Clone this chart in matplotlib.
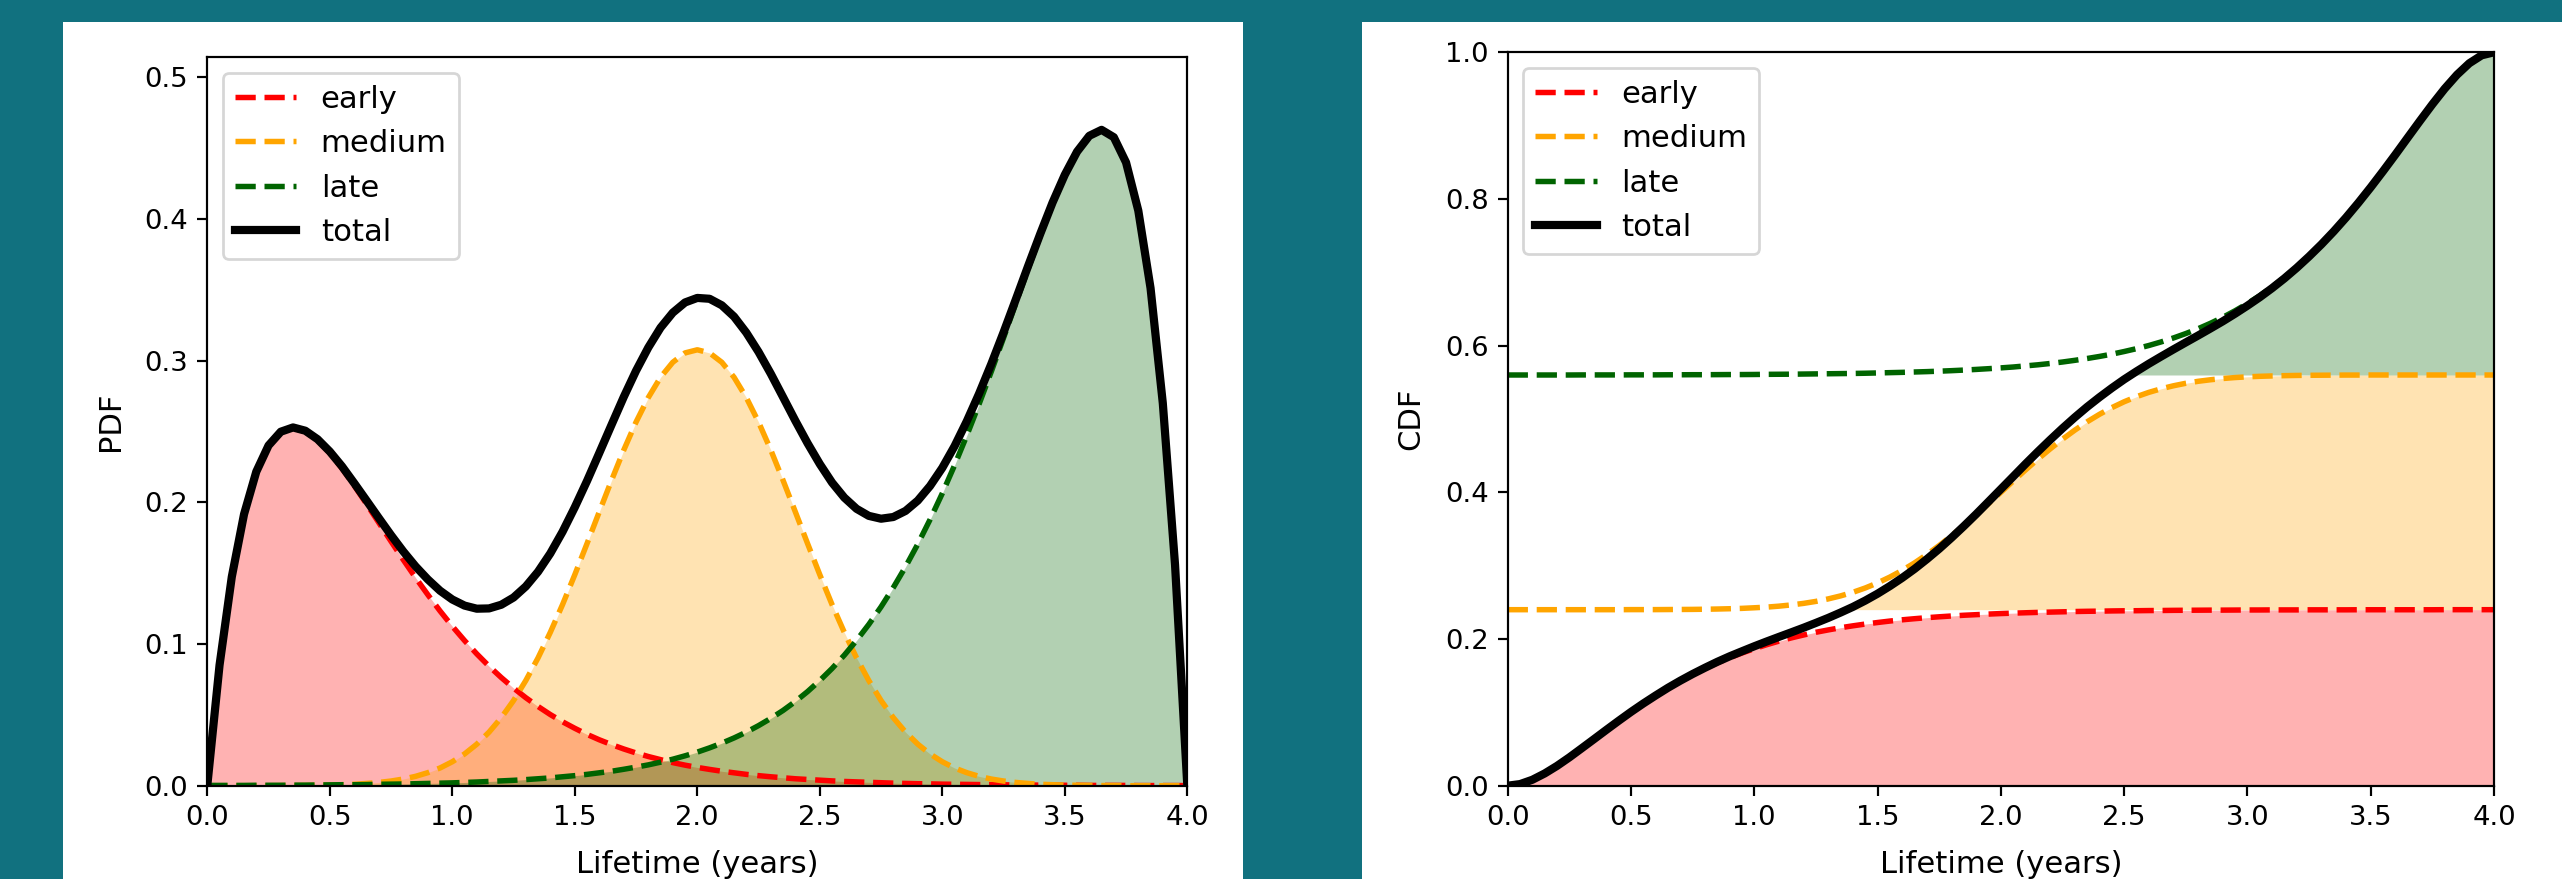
import numpy as np
import matplotlib.pyplot as plt
from matplotlib.patches import Rectangle

# lifetime samples (years)
lifetime = [0.00, 0.05, 0.10, 0.15, 0.20, 0.25, 0.30, 0.35, 0.40, 0.45,
            0.50, 0.55, 0.60, 0.65, 0.70, 0.75, 0.80, 0.85, 0.90, 0.95,
            1.00, 1.05, 1.10, 1.15, 1.20, 1.25, 1.30, 1.35, 1.40, 1.45,
            1.50, 1.55, 1.60, 1.65, 1.70, 1.75, 1.80, 1.85, 1.90, 1.95,
            2.00, 2.05, 2.10, 2.15, 2.20, 2.25, 2.30, 2.35, 2.40, 2.45,
            2.50, 2.55, 2.60, 2.65, 2.70, 2.75, 2.80, 2.85, 2.90, 2.95,
            3.00, 3.05, 3.10, 3.15, 3.20, 3.25, 3.30, 3.35, 3.40, 3.45,
            3.50, 3.55, 3.60, 3.65, 3.70, 3.75, 3.80, 3.85, 3.90, 3.95,
            4.00]

# PDF of each failure mode (weighted share)
pdf_early = [0.0, 0.0849, 0.1472, 0.1914, 0.2213, 0.2398, 0.2494, 0.2523, 0.2499, 0.2437,
             0.2348, 0.2239, 0.2117, 0.1988, 0.1856, 0.1724, 0.1594, 0.1468, 0.1348, 0.1233,
             0.1125, 0.1024, 0.0930, 0.0843, 0.0763, 0.0689, 0.0621, 0.0559, 0.0502, 0.0451,
             0.0405, 0.0362, 0.0324, 0.0290, 0.0259, 0.0231, 0.0206, 0.0184, 0.0163, 0.0145,
             0.0129, 0.0115, 0.0102, 0.0091, 0.0080, 0.0071, 0.0063, 0.0056, 0.0049, 0.0044,
             0.0039, 0.0034, 0.0030, 0.0027, 0.0024, 0.0021, 0.0018, 0.0016, 0.0014, 0.0013,
             0.0011, 0.0010, 0.0009, 0.0008, 0.0007, 0.0006, 0.0005, 0.0005, 0.0004, 0.0004,
             0.0003, 0.0003, 0.0002, 0.0002, 0.0002, 0.0002, 0.0001, 0.0001, 0.0001, 0.0001,
             0.0001]
pdf_medium = [0.0, 0.0, 0.0, 0.0, 0.0, 0.0, 0.0001, 0.0001, 0.0002, 0.0003,
              0.0004, 0.0007, 0.0010, 0.0016, 0.0023, 0.0033, 0.0047, 0.0066, 0.0092, 0.0125,
              0.0169, 0.0224, 0.0293, 0.0378, 0.0480, 0.0601, 0.0742, 0.0902, 0.1082, 0.1278,
              0.1489, 0.1709, 0.1933, 0.2155, 0.2369, 0.2566, 0.2739, 0.2882, 0.2988, 0.3054,
              0.3076, 0.3054, 0.2988, 0.2882, 0.2739, 0.2566, 0.2369, 0.2155, 0.1933, 0.1709,
              0.1489, 0.1278, 0.1082, 0.0902, 0.0742, 0.0601, 0.0480, 0.0378, 0.0293, 0.0224,
              0.0169, 0.0125, 0.0092, 0.0066, 0.0047, 0.0033, 0.0023, 0.0016, 0.0010, 0.0007,
              0.0004, 0.0003, 0.0002, 0.0001, 0.0001, 0.0, 0.0, 0.0, 0.0, 0.0,
              0.0]
pdf_late = [0.0002, 0.0002, 0.0002, 0.0002, 0.0003, 0.0003, 0.0003, 0.0004, 0.0004, 0.0005,
            0.0006, 0.0007, 0.0007, 0.0008, 0.0010, 0.0011, 0.0012, 0.0014, 0.0016, 0.0018,
            0.0020, 0.0023, 0.0026, 0.0030, 0.0034, 0.0038, 0.0043, 0.0049, 0.0055, 0.0063,
            0.0071, 0.0080, 0.0091, 0.0102, 0.0116, 0.0131, 0.0147, 0.0166, 0.0187, 0.0211,
            0.0237, 0.0267, 0.0300, 0.0337, 0.0378, 0.0424, 0.0475, 0.0531, 0.0594, 0.0664,
            0.0742, 0.0827, 0.0921, 0.1025, 0.1138, 0.1262, 0.1398, 0.1545, 0.1705, 0.1878,
            0.2063, 0.2261, 0.2471, 0.2692, 0.2922, 0.3160, 0.3403, 0.3645, 0.3881, 0.4104,
            0.4304, 0.4468, 0.4582, 0.4625, 0.4573, 0.4396, 0.4057, 0.3510, 0.2699, 0.1557,
            0.0]

# cumulative share of each failure mode
cdf_early = [0.0, 0.0022, 0.0081, 0.0167, 0.0270, 0.0386, 0.0509, 0.0634, 0.0760, 0.0884,
             0.1003, 0.1118, 0.1227, 0.1330, 0.1426, 0.1515, 0.1598, 0.1675, 0.1745, 0.1809,
             0.1868, 0.1922, 0.1971, 0.2015, 0.2055, 0.2092, 0.2124, 0.2154, 0.2180, 0.2204,
             0.2225, 0.2245, 0.2262, 0.2277, 0.2291, 0.2303, 0.2314, 0.2324, 0.2332, 0.2340,
             0.2347, 0.2353, 0.2358, 0.2363, 0.2367, 0.2371, 0.2375, 0.2378, 0.2380, 0.2383,
             0.2385, 0.2386, 0.2388, 0.2389, 0.2391, 0.2392, 0.2393, 0.2394, 0.2394, 0.2395,
             0.2396, 0.2396, 0.2397, 0.2397, 0.2397, 0.2398, 0.2398, 0.2398, 0.2398, 0.2399,
             0.2399, 0.2399, 0.2399, 0.2399, 0.2399, 0.2399, 0.2400, 0.2400, 0.2400, 0.2400,
             0.2400]
cdf_medium = [0.0, 0.0, 0.0, 0.0, 0.0, 0.0, 0.0, 0.0, 0.0, 0.0,
              0.0001, 0.0001, 0.0001, 0.0002, 0.0003, 0.0004, 0.0006, 0.0009, 0.0013, 0.0018,
              0.0026, 0.0035, 0.0048, 0.0065, 0.0086, 0.0113, 0.0147, 0.0188, 0.0237, 0.0296,
              0.0365, 0.0445, 0.0536, 0.0638, 0.0752, 0.0875, 0.1008, 0.1148, 0.1295, 0.1447,
              0.1600, 0.1753, 0.1905, 0.2052, 0.2192, 0.2325, 0.2448, 0.2562, 0.2664, 0.2755,
              0.2835, 0.2904, 0.2963, 0.3012, 0.3053, 0.3087, 0.3114, 0.3135, 0.3152, 0.3165,
              0.3175, 0.3182, 0.3187, 0.3191, 0.3194, 0.3196, 0.3197, 0.3198, 0.3199, 0.3199,
              0.3200, 0.3200, 0.3200, 0.3200, 0.3200, 0.3200, 0.3200, 0.3200, 0.3200, 0.3200,
              0.3200]
cdf_late = [0.0, 0.0, 0.0, 0.0, 0.0, 0.0, 0.0001, 0.0001, 0.0001, 0.0001,
            0.0002, 0.0002, 0.0002, 0.0003, 0.0003, 0.0004, 0.0004, 0.0005, 0.0006, 0.0006,
            0.0007, 0.0009, 0.0010, 0.0011, 0.0013, 0.0015, 0.0017, 0.0019, 0.0021, 0.0024,
            0.0028, 0.0032, 0.0036, 0.0041, 0.0046, 0.0052, 0.0059, 0.0067, 0.0076, 0.0086,
            0.0097, 0.0109, 0.0124, 0.0139, 0.0157, 0.0177, 0.0200, 0.0225, 0.0253, 0.0284,
            0.0320, 0.0359, 0.0402, 0.0451, 0.0505, 0.0565, 0.0631, 0.0705, 0.0786, 0.0876,
            0.0974, 0.1082, 0.1200, 0.1329, 0.1470, 0.1622, 0.1786, 0.1962, 0.2150, 0.2350,
            0.2560, 0.2780, 0.3006, 0.3237, 0.3467, 0.3692, 0.3904, 0.4094, 0.4251, 0.4359,
            0.4400]

mode_names = ["early", "medium", "late"]
mode_colors = ["red", "orange", "darkgreen"]

W, H = 2562, 879
DPI = 197
teal = "#11717f"
label_size = 11.2
legend_size = 11.2

x = np.array(lifetime)
pdfs = [np.array(pdf_early), np.array(pdf_medium), np.array(pdf_late)]
cdfs = [np.array(cdf_early), np.array(cdf_medium), np.array(cdf_late)]

fig = plt.figure(figsize=(W / DPI, H / DPI), dpi=DPI, facecolor=teal)

# white "slides" behind each chart
fig.add_artist(Rectangle((63 / W, 0), (1243 - 63) / W, (H - 22) / H,
                         transform=fig.transFigure, facecolor="white", edgecolor="none", zorder=0))
fig.add_artist(Rectangle((1362 / W, 0), (W - 1362) / W, (H - 22) / H,
                         transform=fig.transFigure, facecolor="white", edgecolor="none", zorder=0))

ax1 = fig.add_axes([207.3 / W, (H - 785.7) / H, 980 / W, 728.4 / H])
ax2 = fig.add_axes([1507.7 / W, (H - 785.7) / H, 986.3 / W, 733.4 / H])

# --- PDF panel ---
pdf_total = pdfs[0] + pdfs[1] + pdfs[2]
for y, name, c in zip(pdfs, mode_names, mode_colors):
    ax1.fill_between(x, 0, y, color=c, alpha=0.3, linewidth=0)
    ax1.plot(x, y, "--", color=c, linewidth=2, label=name)
ax1.plot(x, pdf_total, color="black", linewidth=3, label="total")
ax1.set_xlim(0, 4)
ax1.set_ylim(0, 0.514)
ax1.set_xticks(np.arange(0, 4.01, 0.5))
ax1.set_yticks(np.arange(0, 0.51, 0.1))
ax1.set_xlabel("Lifetime (years)", fontsize=label_size, labelpad=7)
ax1.set_ylabel("PDF", fontsize=label_size, labelpad=7)
ax1.legend(loc="upper left", fontsize=legend_size)

# --- CDF panel ---
cdf_total = cdfs[0] + cdfs[1] + cdfs[2]
base = 0.0
for y, name, c in zip(cdfs, mode_names, mode_colors):
    stacked = base + y
    top = np.maximum(np.minimum(stacked, cdf_total), base)
    ax2.fill_between(x, base, top, color=c, alpha=0.3, linewidth=0)
    ax2.plot(x, stacked, "--", color=c, linewidth=2, label=name)
    base = base + y[-1]
ax2.plot(x, cdf_total, color="black", linewidth=3, label="total")
ax2.set_xlim(0, 4)
ax2.set_ylim(0, 1.0)
ax2.set_xticks(np.arange(0, 4.01, 0.5))
ax2.set_xlabel("Lifetime (years)", fontsize=label_size, labelpad=7)
ax2.set_ylabel("CDF", fontsize=label_size, labelpad=7)
ax2.legend(loc="upper left", fontsize=legend_size)

fig.savefig("out.png", dpi=DPI, facecolor=teal)
